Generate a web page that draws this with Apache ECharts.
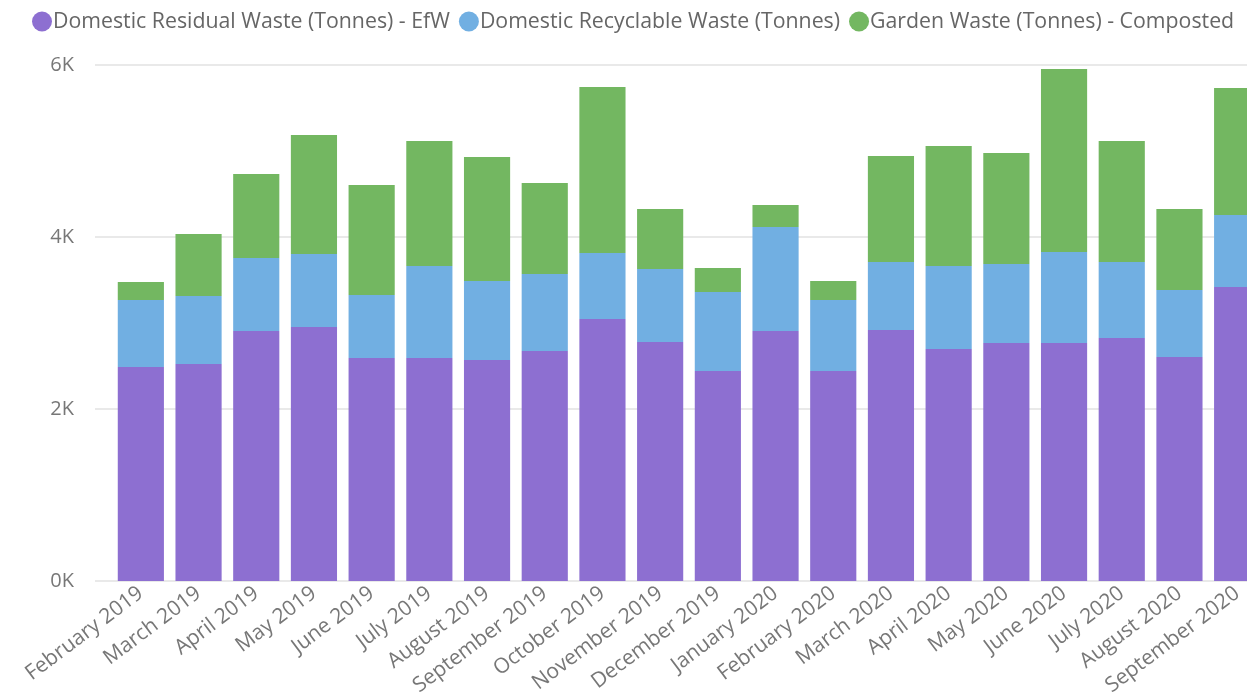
<!DOCTYPE html>
<html>
<head>
<meta charset="utf-8">
<script src="https://cdn.jsdelivr.net/npm/echarts@6/dist/echarts.min.js"></script>
<style>
  html, body { margin: 0; padding: 0; background: #fff; }
  #chart { width: 1247px; height: 694px; }
</style>
</head>
<body>
<div id="chart"></div>
<script>
const months = [
  'February 2019', 'March 2019', 'April 2019', 'May 2019', 'June 2019',
  'July 2019', 'August 2019', 'September 2019', 'October 2019', 'November 2019',
  'December 2019', 'January 2020', 'February 2020', 'March 2020', 'April 2020',
  'May 2020', 'June 2020', 'July 2020', 'August 2020', 'September 2020'
]
const residual = [2488, 2523, 2907, 2953, 2593, 2593, 2570, 2674, 3047, 2779,
  2442, 2907, 2442, 2919, 2698, 2767, 2767, 2826, 2605, 3419]
const recyclable = [779, 791, 849, 849, 733, 1070, 918, 896, 767, 849,
  918, 1209, 825, 790, 965, 919, 1059, 883, 779, 837]
const garden = [210, 721, 977, 1384, 1279, 1453, 1442, 1058, 1930, 698,
  280, 256, 221, 1233, 1395, 1291, 2127, 1407, 942, 1477]
const yTicks = [0, 2000, 4000, 6000]

const fontFamily = '"Open Sans", "Noto Sans", sans-serif'
const grey = '#777777'

const chart = echarts.init(document.getElementById('chart'))

const makeBar = (name, data, color) => ({
  name: name,
  type: 'bar',
  stack: 'total',
  xAxisIndex: 1,
  yAxisIndex: 1,
  barCategoryGap: '20%',
  itemStyle: { color: color },
  data: data,
})

const option = {
  animation: false,
  legend: {
    left: 27,
    top: 6,
    width: 1300,
    icon: 'circle',
    itemWidth: 20,
    itemHeight: 20,
    itemGap: 9,
    textStyle: { fontFamily: fontFamily, fontSize: 21.3, color: '#666', padding: [0, 0, 0, -4] },
    data: [
      'Domestic Residual Waste (Tonnes) - EfW',
      'Domestic Recyclable Waste (Tonnes)',
      'Garden Waste (Tonnes) - Composted',
    ],
  },
  grid: [
    { left: 95, right: 0, top: 65, bottom: 113, outerBoundsMode: 'none' },
    { left: 112, width: 1154, top: 65, bottom: 113, outerBoundsMode: 'none' },
  ],
  xAxis: [
    { type: 'value', gridIndex: 0, show: false, min: 0, max: 1 },
    {
      type: 'category',
      gridIndex: 1,
      data: months,
      axisTick: { show: false },
      axisLine: { show: false },
      axisLabel: {
        rotate: 37,
        margin: 10,
        interval: 0,
        fontFamily: fontFamily,
        fontSize: 21,
        color: grey,
      },
    },
  ],
  yAxis: [
    {
      type: 'value',
      gridIndex: 0,
      min: yTicks[0],
      max: yTicks[yTicks.length - 1],
      interval: 2000,
      axisLine: { show: false },
      axisTick: { show: false },
      axisLabel: {
        margin: 21,
        fontFamily: fontFamily,
        fontSize: 20,
        color: grey,
        formatter: (v) => (v / 1000) + 'K',
      },
      splitLine: { lineStyle: { color: '#e9e9e9', width: 2 } },
    },
    {
      type: 'value',
      gridIndex: 1,
      min: yTicks[0],
      max: yTicks[yTicks.length - 1],
      interval: 2000,
      show: false,
      splitLine: { show: false },
    },
  ],
  series: [
    makeBar('Domestic Residual Waste (Tonnes) - EfW', residual, '#8D6FD1'),
    makeBar('Domestic Recyclable Waste (Tonnes)', recyclable, '#71AFE2'),
    makeBar('Garden Waste (Tonnes) - Composted', garden, '#73B761'),
  ],
}

chart.setOption(option)
</script>
</body>
</html>
